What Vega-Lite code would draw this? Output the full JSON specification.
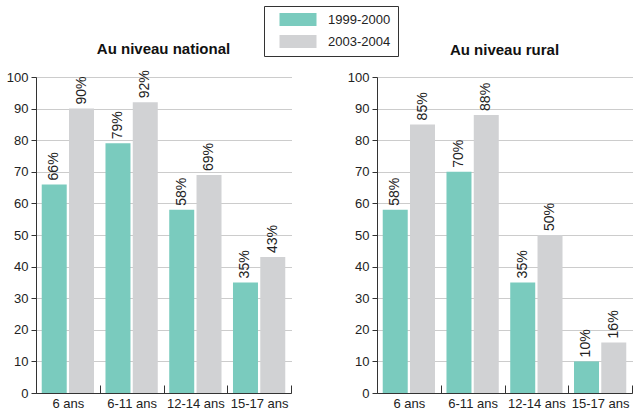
{
  "$schema": "https://vega.github.io/schema/vega-lite/v6.json",
  "padding": {"left": 6, "top": 5, "right": 0, "bottom": 5},
  "background": "white",
  "config": {
    "font": "Liberation Sans, Arial, sans-serif",
    "view": {"stroke": null},
    "title": {"fontSize": 15, "fontWeight": "bold", "color": "#111", "offset": 13, "anchor": "middle"},
    "axisY": {"domainColor": "#333", "tickColor": "#333", "tickSize": 5, "grid": true, "gridDash": [1, 1], "gridColor": "#999", "labelFontSize": 13, "labelColor": "#222", "labelPadding": 3, "title": null, "values": [0, 10, 20, 30, 40, 50, 60, 70, 80, 90, 100]},
    "axisX": {"domainColor": "#333", "tickColor": "#333", "tickSize": -8, "tickBand": "extent", "labelFontSize": 13, "labelColor": "#222", "labelAngle": 0, "labelPadding": 12, "title": null, "grid": false}
  },
  "data": {"values": [
    {"zone": "national", "cat": "6 ans", "period": "1999-2000", "value": 66},
    {"zone": "national", "cat": "6 ans", "period": "2003-2004", "value": 90},
    {"zone": "national", "cat": "6-11 ans", "period": "1999-2000", "value": 79},
    {"zone": "national", "cat": "6-11 ans", "period": "2003-2004", "value": 92},
    {"zone": "national", "cat": "12-14 ans", "period": "1999-2000", "value": 58},
    {"zone": "national", "cat": "12-14 ans", "period": "2003-2004", "value": 69},
    {"zone": "national", "cat": "15-17 ans", "period": "1999-2000", "value": 35},
    {"zone": "national", "cat": "15-17 ans", "period": "2003-2004", "value": 43},
    {"zone": "rural", "cat": "6 ans", "period": "1999-2000", "value": 58},
    {"zone": "rural", "cat": "6 ans", "period": "2003-2004", "value": 85},
    {"zone": "rural", "cat": "6-11 ans", "period": "1999-2000", "value": 70},
    {"zone": "rural", "cat": "6-11 ans", "period": "2003-2004", "value": 88},
    {"zone": "rural", "cat": "12-14 ans", "period": "1999-2000", "value": 35},
    {"zone": "rural", "cat": "12-14 ans", "period": "2003-2004", "value": 50},
    {"zone": "rural", "cat": "15-17 ans", "period": "1999-2000", "value": 10},
    {"zone": "rural", "cat": "15-17 ans", "period": "2003-2004", "value": 16}
  ]},
  "spacing": 55,
  "hconcat": [
    {
      "title": {"text": "Au niveau national"},
      "width": 255,
      "height": 316,
      "transform": [{"filter": "datum.zone === 'national'"}],
      "encoding": {
        "x": {"field": "cat", "type": "nominal", "sort": ["6 ans", "6-11 ans", "12-14 ans", "15-17 ans"], "scale": {"paddingInner": 0, "paddingOuter": 0}},
        "xOffset": {"field": "period", "type": "nominal", "scale": {"paddingInner": 0.084, "paddingOuter": 0.21}},
        "y": {"field": "value", "type": "quantitative", "scale": {"domain": [0, 100], "nice": false}}
      },
      "layer": [
        {
          "mark": {"type": "bar"},
          "encoding": {
            "color": {"field": "period", "type": "nominal", "scale": {"domain": ["1999-2000", "2003-2004"], "range": ["#7ACBBE", "#D1D2D4"]},
              "legend": {"orient": "none", "legendX": 228, "legendY": -71, "title": null, "strokeColor": "#333", "fillColor": "white", "padding": 7, "symbolType": "M-3.7,-1.3h7.4v2.6h-7.4z", "symbolSize": 100, "symbolOffset": 20.5, "symbolStrokeWidth": 0, "labelFontSize": 13, "labelColor": "#222", "labelOffset": 23.5, "rowPadding": 8}}
          }
        },
        {
          "mark": {"type": "text", "angle": -90, "align": "left", "baseline": "middle", "dx": 4, "fontSize": 14, "color": "#222", "text": {"expr": "datum.value + '%'"}}
        }
      ]
    },
    {
      "title": {"text": "Au niveau rural"},
      "width": 255,
      "height": 316,
      "transform": [{"filter": "datum.zone === 'rural'"}],
      "encoding": {
        "x": {"field": "cat", "type": "nominal", "sort": ["6 ans", "6-11 ans", "12-14 ans", "15-17 ans"], "scale": {"paddingInner": 0, "paddingOuter": 0}},
        "xOffset": {"field": "period", "type": "nominal", "scale": {"paddingInner": 0.084, "paddingOuter": 0.21}},
        "y": {"field": "value", "type": "quantitative", "scale": {"domain": [0, 100], "nice": false}}
      },
      "layer": [
        {
          "mark": {"type": "bar"},
          "encoding": {
            "color": {"field": "period", "type": "nominal", "scale": {"domain": ["1999-2000", "2003-2004"], "range": ["#7ACBBE", "#D1D2D4"]}}
          }
        },
        {
          "mark": {"type": "text", "angle": -90, "align": "left", "baseline": "middle", "dx": 4, "fontSize": 14, "color": "#222", "text": {"expr": "datum.value + '%'"}}
        }
      ]
    }
  ]
}
